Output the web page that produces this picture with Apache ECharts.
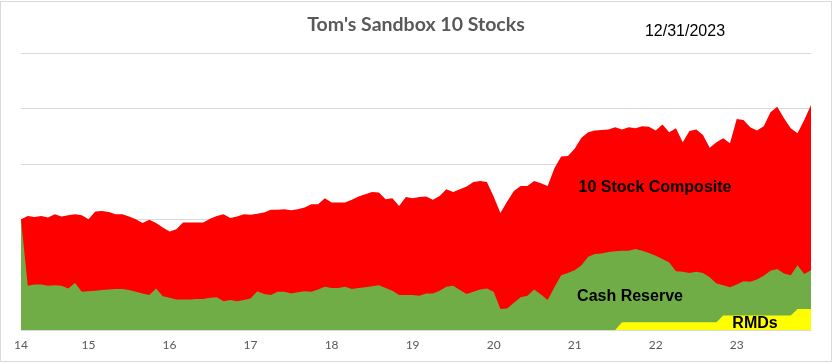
<!DOCTYPE html>
<html>
<head>
<meta charset="utf-8">
<script src="https://cdn.jsdelivr.net/npm/echarts@6/dist/echarts.min.js"></script>
<style>
html,body{margin:0;padding:0;background:#fff;}
#chart{width:834px;height:364px;}
</style>
</head>
<body>
<div id="chart"></div>
<script>
// Monthly points, March 2014 through December 2023
const startYear = 2014, startMonth = 3, pointCount = 118;
const categories = [];
for (let k = 0; k < pointCount; k++) {
  const m = startMonth - 1 + k;
  const y = startYear + Math.floor(m / 12);
  const mm = (m % 12) + 1;
  categories.push(y + '-' + (mm < 10 ? '0' + mm : '' + mm));
}

// 10 Stock Composite (top of red area)
const composite = [
  200,206,204,206,203,209,205,207,209,207,
  200,214,215,213,209,209,205,200,193,199,
  193,185,178,182,194,194,194,194,201,206,
  209,202,205,209,208,210,212,217,217,218,
  216,218,221,227,227,238,230,230,230,235,
  241,245,249,248,236,238,224,240,238,240,
  241,235,242,254,249,254,259,267,269,267,
  241,211,232,251,260,260,269,265,260,292,
  313,314,327,347,357,360,361,362,366,362,
  366,364,368,367,360,371,357,364,339,359,
  362,352,329,339,346,337,381,379,366,360,
  368,393,403,382,364,355,379,406
];

// Cash Reserve (top of green area)
const cash = [
  200,80,82,82,80,81,80,75,85,69,
  70,71,72,73,74,74,72,69,66,63,
  75,61,58,55,55,55,56,56,58,59,
  52,54,52,54,57,70,65,63,69,69,
  66,68,70,69,73,78,76,76,78,74,
  76,77,79,81,76,71,63,63,63,62,
  66,66,71,78,80,72,65,69,73,75,
  69,38,39,49,59,62,73,64,54,77,
  99,103,108,117,132,137,138,141,142,143,
  143,146,143,139,134,128,122,106,105,103,
  105,103,95,84,81,77,82,88,87,91,
  98,107,110,102,99,117,101,108
];

// RMDs (yellow area)
const rmds = [
  0,0,0,0,0,0,0,0,0,0,
  0,0,0,0,0,0,0,0,0,0,
  0,0,0,0,0,0,0,0,0,0,
  0,0,0,0,0,0,0,0,0,0,
  0,0,0,0,0,0,0,0,0,0,
  0,0,0,0,0,0,0,0,0,0,
  0,0,0,0,0,0,0,0,0,0,
  0,0,0,0,0,0,0,0,0,0,
  0,0,0,0,0,0,0,0,0,14,
  14,14,14,14,14,14,14,14,14,14,
  14,14,14,14,26,26,26,26,26,26,
  26,26,26,26,26,38,38,38
];

const chart = echarts.init(document.getElementById('chart'), null, {renderer: 'canvas'});

function area(name, data, color) {
  return {
    name: name,
    type: 'line',
    data: data,
    symbol: 'none',
    showSymbol: false,
    lineStyle: {width: 0, color: color},
    areaStyle: {color: color, opacity: 1},
    silent: true
  };
}

chart.setOption({
  animation: false,
  backgroundColor: '#ffffff',
  grid: {left: 21, right: 23, top: 53, bottom: 34},
  xAxis: {
    type: 'category',
    data: categories,
    boundaryGap: false,
    axisLine: {show: true, lineStyle: {color: '#d9d9d9', width: 1}},
    axisTick: {show: false},
    axisLabel: {
      color: '#595959',
      fontSize: 12,
      fontFamily: 'Lato',
      margin: 9,
      interval: function (idx, val) { return idx === 0 || val.slice(5) === '01'; },
      formatter: function (val) { return val.slice(2, 4); }
    },
    splitLine: {show: false}
  },
  yAxis: {
    type: 'value',
    min: 0,
    max: 500,
    interval: 100,
    axisLabel: {show: false},
    axisLine: {show: false},
    axisTick: {show: false},
    splitLine: {show: true, lineStyle: {color: '#d9d9d9', width: 1}}
  },
  series: [
    area('10 Stock Composite', composite, '#ff0000'),
    area('Cash Reserve', cash, '#70ad47'),
    area('RMDs', rmds, '#ffff00')
  ],
  graphic: [
    {type: 'rect', shape: {x: 0.5, y: 1.5, width: 831, height: 360}, style: {fill: 'none', stroke: '#d9d9d9', lineWidth: 1}, z: 100, silent: true},
    {type: 'text', x: 416, y: 25, style: {text: "Tom's Sandbox 10 Stocks", fill: '#595959', font: 'bold 19.5px Lato', textAlign: 'center', textVerticalAlign: 'middle'}},
    {type: 'text', x: 685, y: 32, style: {text: '12/31/2023', fill: '#000000', font: '16px "Liberation Sans"', textAlign: 'center', textVerticalAlign: 'middle'}},
    {type: 'text', x: 655, y: 188, z: 50, style: {text: '10 Stock Composite', fill: '#000000', font: 'bold 16px "Liberation Sans"', textAlign: 'center', textVerticalAlign: 'middle'}},
    {type: 'text', x: 630, y: 297, z: 50, style: {text: 'Cash Reserve', fill: '#000000', font: 'bold 16px "Liberation Sans"', textAlign: 'center', textVerticalAlign: 'middle'}},
    {type: 'text', x: 755, y: 324, z: 50, style: {text: 'RMDs', fill: '#000000', font: 'bold 16px "Liberation Sans"', textAlign: 'center', textVerticalAlign: 'middle'}}
  ]
});
</script>
</body>
</html>
